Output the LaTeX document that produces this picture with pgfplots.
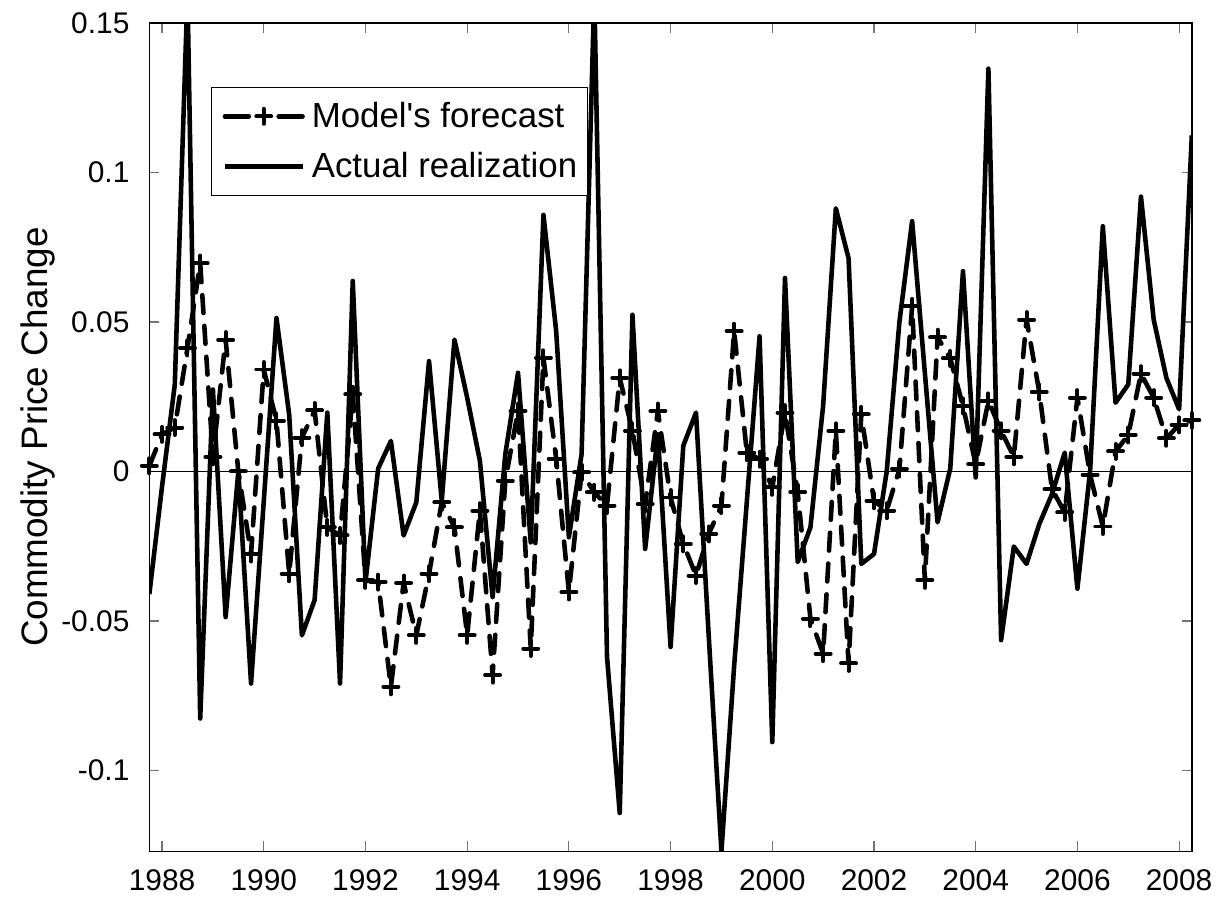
\documentclass[border=0pt]{standalone}
\usepackage{fontspec}
\setmainfont{Liberation Sans}
\usepackage{pgfplots}
\pgfplotsset{compat=1.18}
\usepackage{pgfplotstable}
\pgfplotsset{
  fclegend/.style={legend image code/.code={
    \path (0pt,0pt) (43pt,0pt);
    \draw[##1, solid] (3pt,0pt) -- (15pt,0pt);
    \draw[##1, solid] (30pt,0pt) -- (42pt,0pt);
    \draw[##1, solid] plot coordinates {(22.5pt,0pt)};}},
  linelegend/.style={legend image code/.code={\path (0pt,0pt) (43pt,0pt); \draw[##1] (3pt,0pt) -- (42pt,0pt);}},
}
\pgfplotstableread{
x fc act
1987.75 0.0019 -0.041
1988.00 0.0124 -0.005
1988.25 0.0147 0.029
1988.50 0.0413 0.16
1988.75 0.0697 -0.0826
1989.00 0.0049 0.0274
1989.25 0.0441 -0.0487
1989.50 0.0 0.0
1989.75 -0.0276 -0.0709
1990.00 0.0341 -0.01
1990.25 0.0169 0.0513
1990.50 -0.0342 0.019
1990.75 0.0113 -0.0548
1991.00 0.0204 -0.043
1991.25 -0.0187 0.0197
1991.50 -0.0214 -0.0709
1991.75 0.0258 0.0637
1992.00 -0.0364 -0.037
1992.25 -0.037 0.001
1992.50 -0.072 0.0102
1992.75 -0.0373 -0.0214
1993.00 -0.0548 -0.0103
1993.25 -0.0342 0.0369
1993.50 -0.0103 -0.0098
1993.75 -0.0187 0.0441
1994.00 -0.0548 0.0247
1994.25 -0.0131 0.0036
1994.50 -0.0681 -0.042
1994.75 -0.0031 0.0058
1995.00 0.0202 0.033
1995.25 -0.0592 -0.0237
1995.50 0.038 0.0858
1995.75 0.0043 0.047
1996.00 -0.0403 -0.022
1996.25 -0.0003 0.0058
1996.50 -0.007 0.16
1996.75 -0.0114 -0.062
1997.00 0.0313 -0.1142
1997.25 0.0136 0.0524
1997.50 -0.0109 -0.0259
1997.75 0.0202 0.0124
1998.00 -0.0087 -0.0587
1998.25 -0.0242 0.0086
1998.50 -0.0348 0.0197
1998.75 -0.0209 -0.055
1999.00 -0.0114 -0.127
1999.25 0.0469 -0.065
1999.50 0.0063 -0.01
1999.75 0.0041 0.0452
2000.00 -0.0053 -0.0905
2000.25 0.0197 0.0647
2000.50 -0.007 -0.0303
2000.75 -0.0492 -0.0187
2001.00 -0.0609 0.022
2001.25 0.0136 0.088
2001.50 -0.0642 0.0713
2001.75 0.0191 -0.0309
2002.00 -0.0098 -0.0276
2002.25 -0.0131 0.0
2002.50 0.0008 0.050
2002.75 0.0552 0.0837
2003.00 -0.0364 0.033
2003.25 0.0449 -0.017
2003.50 0.0378 0.001
2003.75 0.0219 0.067
2004.00 0.0024 -0.002
2004.25 0.0236 0.1347
2004.50 0.0136 -0.0564
2004.75 0.0049 -0.0251
2005.00 0.0508 -0.0309
2005.25 0.0266 -0.0176
2005.50 -0.0059 -0.0076
2005.75 -0.0137 0.0063
2006.00 0.0247 -0.0392
2006.25 -0.0011 0.0002
2006.50 -0.0184 0.082
2006.75 0.0067 0.023
2007.00 0.0122 0.0291
2007.25 0.0327 0.0919
2007.50 0.0247 0.0508
2007.75 0.0111 0.0313
2008.00 0.0156 0.0208
2008.25 0.0171 0.1124
}\datatable

\begin{document}
\begin{tikzpicture}
\begin{axis}[name=ax, scale only axis, width=523.5pt, height=416pt,
  xmin=1987.75, xmax=2008.25, ymin=-0.127, ymax=0.15,
  xtick={1988,1990,1992,1994,1996,1998,2000,2002,2004,2006,2008},
  xticklabels={1988,1990,1992,1994,1996,1998,2000,2002,2004,2006,2008},
  ytick={-0.1,-0.05,0,0.05,0.1,0.15},
  yticklabels={-0.1,-0.05,0,0.05,0.1,0.15},
  tick align=inside, xtick pos=both, ytick pos=both,
  major tick length=5pt,
  tick style={black!55, line width=0.6pt},
  axis line style={black, line width=0.75pt},
  ticklabel style={font=\fontsize{15}{18}\selectfont},
  xticklabel style={inner ysep=0pt, yshift=-9pt},
  yticklabel style={xshift=-6.5pt},
  ylabel={Commodity Price Change},
  ylabel style={font=\fontsize{18.5}{21}\selectfont, at={(axis description cs:-0.1067,0.5)}, anchor=center},
  legend style={at={(axis description cs:0.0592,0.923)}, anchor=north west, draw=black, line width=0.6pt, fill=white,
    font=\fontsize{17.5}{20}\selectfont, inner xsep=2.5pt, inner ysep=5.5pt, row sep=7pt,
    nodes={inner xsep=2.5pt, inner ysep=2pt}},
  legend cell align=left,
]
\addplot[black, line width=0.65pt, forget plot] coordinates {(1987.75,0) (2008.25,0)};
\addplot[black, line width=2.3pt, dash pattern=on 9pt off 6.5pt, line cap=round, line join=round,
  mark=+, mark size=3.75pt, mark options={solid, line width=2pt}, fclegend
  ] table[x=x, y=fc] {\datatable};
\addlegendentry{Model\textquotesingle s forecast}
\addplot[black, line width=2.3pt, line join=round, mark=none, linelegend] table[x=x, y=act] {\datatable};
\addlegendentry{Actual realization}
\end{axis}
\pgfresetboundingbox
\path[use as bounding box] ([shift={(-75pt,-24pt)}]ax.south west) rectangle ([shift={(13.15pt,11.5pt)}]ax.north east);
\end{tikzpicture}
\end{document}
